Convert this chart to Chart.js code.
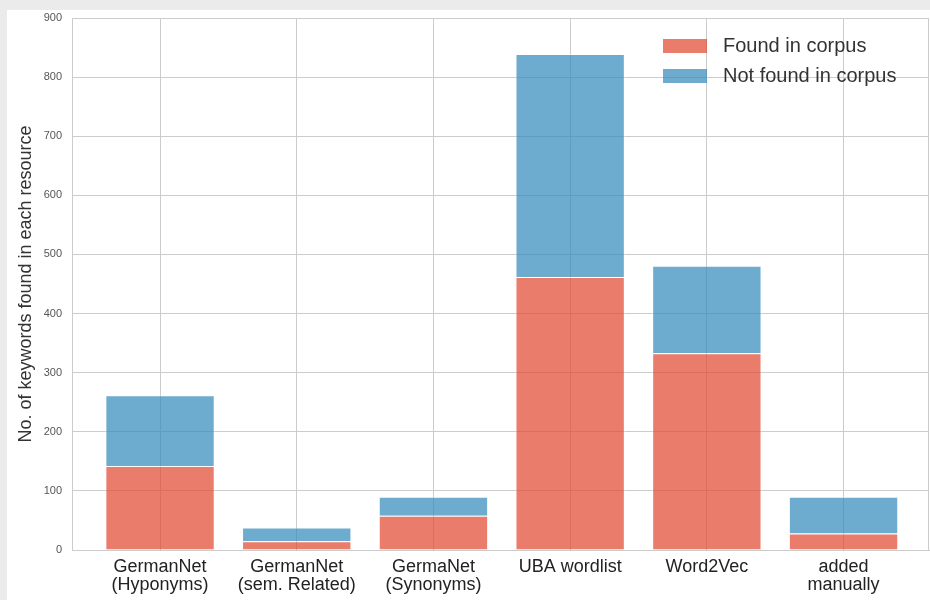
<!DOCTYPE html>
<html>
<head>
<meta charset="utf-8">
<script src="https://cdn.jsdelivr.net/npm/chart.js@4.4.1/dist/chart.umd.min.js"></script>
<style>
    html, body { margin: 0; padding: 0; background: #ebebeb; }
    #panel { position: absolute; left: 7px; top: 10px; width: 923px; height: 590px; background: #ffffff; }
</style>
</head>
<body>
<div id="panel"><canvas id="chart"></canvas></div>
<script>
// Keyword counts per resource
const categories = [
    ['GermanNet', '(Hyponyms)'],
    ['GermanNet', '(sem. Related)'],
    ['GermaNet', '(Synonyms)'],
    'UBA wordlist',
    'Word2Vec',
    ['added', 'manually']
];
const foundInCorpus = [142, 15, 58, 462, 333, 28];
const notFoundInCorpus = [120, 23, 32, 377, 148, 62];
const yMin = 0;
const yMax = 900;
const yStep = 100;

const FONT = "'Liberation Sans', Arial, sans-serif";
const gridColor = '#cccccc';

// bars on a linear x axis so the outer margins can match the picture
const toPoints = values => values.map((v, i) => ({ x: i, y: v }));

// legend drawn inside the plot, top right
const insideLegend = {
    id: 'insideLegend',
    afterDraw(chart) {
        const ctx = chart.ctx;
        const area = chart.chartArea;
        const x = area.right - 266;
        ctx.save();
        ctx.font = '20px ' + FONT;
        ctx.textBaseline = 'middle';
        chart.data.datasets.forEach((ds, i) => {
            const y = area.top + 28 + i * 30;
            ctx.fillStyle = ds.backgroundColor;
            ctx.fillRect(x, y - 7, 44, 14);
            ctx.fillStyle = '#333333';
            ctx.fillText(ds.label, x + 60, y);
        });
        ctx.restore();
    }
};

// frame round the plot area (top and right edges)
const plotFrame = {
    id: 'plotFrame',
    beforeDatasetsDraw(chart) {
        const ctx = chart.ctx;
        const a = chart.chartArea;
        ctx.save();
        ctx.strokeStyle = gridColor;
        ctx.lineWidth = 1;
        ctx.strokeRect(a.left + 0.5, a.top + 0.5, a.right - a.left - 1, a.bottom - a.top);
        ctx.restore();
    }
};

new Chart(document.getElementById('chart'), {
    type: 'bar',
    data: {
        datasets: [{
            label: 'Found in corpus',
            data: toPoints(foundInCorpus),
            backgroundColor: 'rgba(226, 74, 51, 0.72)',
            borderColor: 'rgba(255, 255, 255, 0.45)',
            borderWidth: 1,
            barPercentage: 0.8,
            categoryPercentage: 1
        }, {
            label: 'Not found in corpus',
            data: toPoints(notFoundInCorpus),
            backgroundColor: 'rgba(52, 138, 189, 0.72)',
            borderColor: 'rgba(255, 255, 255, 0.45)',
            borderWidth: 1,
            barPercentage: 0.8,
            categoryPercentage: 1
        }]
    },
    options: {
        responsive: true,
        maintainAspectRatio: false,
        animation: false,
        layout: {
            padding: { top: 8, right: 1, left: 0, bottom: 0 }
        },
        plugins: {
            legend: { display: false },
            tooltip: { enabled: false }
        },
        scales: {
            x: {
                type: 'linear',
                stacked: true,
                offset: false,
                min: -0.644,
                max: 5.625,
                afterBuildTicks: scale => {
                    scale.ticks = categories.map((_, i) => ({ value: i }));
                },
                afterFit: scale => {
                    scale.height = 50;
                    scale.paddingLeft = 0;
                    scale.paddingRight = 0;
                },
                grid: {
                    color: gridColor,
                    offset: false,
                    drawTicks: false
                },
                border: { color: gridColor },
                ticks: {
                    padding: 8,
                    autoSkip: false,
                    maxRotation: 0,
                    color: '#222222',
                    font: { family: FONT, size: 18, lineHeight: 1.0 },
                    callback: value => categories[value]
                }
            },
            y: {
                stacked: true,
                min: yMin,
                max: yMax,
                afterFit: scale => {
                    scale.width = 65;
                    scale.paddingTop = 0;
                    scale.paddingBottom = 0;
                },
                grid: {
                    color: gridColor,
                    drawTicks: false
                },
                border: { color: gridColor },
                ticks: {
                    stepSize: yStep,
                    padding: 10,
                    color: '#555555',
                    font: { family: FONT, size: 11 }
                },
                title: {
                    display: true,
                    text: 'No. of keywords found in each resource',
                    color: '#333333',
                    padding: { top: 8, bottom: 0 },
                    font: { family: FONT, size: 18 }
                }
            }
        }
    },
    plugins: [plotFrame, insideLegend]
});
</script>
</body>
</html>
